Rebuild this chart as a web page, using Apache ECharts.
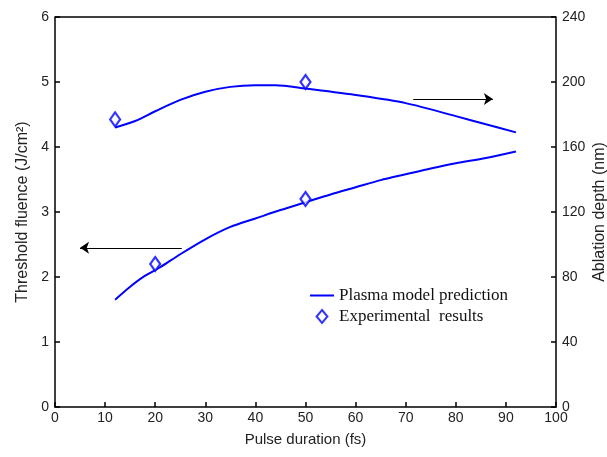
<!DOCTYPE html>
<html>
<head>
<meta charset="utf-8">
<script src="https://cdn.jsdelivr.net/npm/echarts@6/dist/echarts.min.js"></script>
<style>
  html, body { margin: 0; padding: 0; background: #fff; }
  #main { width: 607px; height: 457px; }
</style>
</head>
<body>
<div id="main"></div>
<script>
// model curve for threshold fluence (left axis, J/cm2)
var fluenceX = [12, 15, 18, 21, 25, 30, 35, 40, 45, 50, 55, 60, 65, 70, 75, 80, 86, 92];
var fluenceY = [1.65, 1.85, 2.02, 2.15, 2.35, 2.58, 2.77, 2.9, 3.03, 3.15, 3.27, 3.38, 3.49, 3.58, 3.67, 3.75, 3.83, 3.93];
// model curve for ablation depth (right axis, nm)
var depthX = [12, 16, 20, 25, 30, 35, 40, 44, 50, 60, 70, 80, 86, 92];
var depthY = [172, 176, 182, 189, 194, 197, 198, 198, 196, 192, 187, 179, 174, 169];
// experimental points
var expFluence = [[20, 2.2], [50, 3.2]];
var expDepth = [[12, 177], [50, 200]];
// arrows (in left-axis units)
var arrowLeft = [[25.3, 2.45], [5, 2.45]];
var arrowRight = [[71.5, 4.74], [87.4, 4.74]];

var blue = '#0000ff';
var myChart = echarts.init(document.getElementById('main'));

function pairs(xs, ys) {
    var out = [];
    for (var i = 0; i < xs.length; i++) out.push([xs[i], ys[i]]);
    return out;
}

var tickFont = { color: '#222', fontSize: 14, fontFamily: 'Liberation Sans' };
var diamondPath = 'path://M5,0 L10,6 L5,12 L0,6 Z';

var option = {
    animation: false,
    grid: { left: 55, right: 51, top: 17, bottom: 50, containLabel: false, outerBoundsMode: 'none' },
    legend: {
        orient: 'vertical',
        left: 305,
        top: 282,
        itemGap: 4,
        itemWidth: 24,
        itemHeight: 13,
        textStyle: { fontFamily: 'Liberation Serif', fontSize: 17, color: '#111' },
        data: [
            { name: 'Plasma model prediction', icon: 'path://M0,6 L24,6 L24,8 L0,8 Z' },
            { name: 'Experimental  results', icon: diamondPath }
        ]
    },
    xAxis: {
        type: 'value', min: 0, max: 100, interval: 10,
        name: 'Pulse duration (fs)', nameLocation: 'middle', nameGap: 25, nameMoveOverlap: false,
        nameTextStyle: { fontSize: 15, fontFamily: 'Liberation Sans', color: '#222' },
        axisLine: { lineStyle: { color: '#000', width: 1.5 } },
        axisTick: { inside: true, length: 5, lineStyle: { color: '#000', width: 1.5 } },
        axisLabel: Object.assign({ margin: 4 }, tickFont),
        splitLine: { show: false }
    },
    yAxis: [{
        type: 'value', min: 0, max: 6, interval: 1,
        name: 'Threshold fluence (J/cm²)', nameLocation: 'middle', nameGap: 24, nameMoveOverlap: false,
        nameTextStyle: { fontSize: 16, fontFamily: 'Liberation Sans', color: '#222' },
        axisLine: { show: true, lineStyle: { color: '#000', width: 1.5 } },
        axisTick: { inside: true, length: 5, lineStyle: { color: '#000', width: 1.5 } },
        axisLabel: Object.assign({ margin: 6 }, tickFont),
        splitLine: { show: false }
    }, {
        type: 'value', min: 0, max: 240, interval: 40, position: 'right',
        name: 'Ablation depth (nm)', nameLocation: 'middle', nameGap: 36, nameRotate: 90, nameMoveOverlap: false,
        nameTextStyle: { fontSize: 16, fontFamily: 'Liberation Sans', color: '#222' },
        axisLine: { show: true, lineStyle: { color: '#000', width: 1.5 } },
        axisTick: { inside: true, length: 5, lineStyle: { color: '#000', width: 1.5 } },
        axisLabel: Object.assign({ margin: 6 }, tickFont),
        splitLine: { show: false }
    }],
    graphic: [{
        type: 'line', shape: { x1: 55, y1: 17, x2: 556, y2: 17 },
        style: { stroke: '#000', lineWidth: 1.5 }
    }],
    series: [{
        name: 'Plasma model prediction', type: 'line', yAxisIndex: 0,
        data: pairs(fluenceX, fluenceY), smooth: 0.3, showSymbol: false,
        lineStyle: { color: blue, width: 2 }, itemStyle: { color: blue },
        markLine: {
            silent: true, symbol: ['none', 'arrow'], symbolSize: [9, 9],
            label: { show: false },
            lineStyle: { color: '#000', width: 1, type: 'solid' },
            data: [
                [{ coord: arrowLeft[0] }, { coord: arrowLeft[1] }],
                [{ coord: arrowRight[0] }, { coord: arrowRight[1] }]
            ]
        }
    }, {
        name: 'Plasma model prediction', type: 'line', yAxisIndex: 1,
        data: pairs(depthX, depthY), smooth: 0.3, showSymbol: false,
        lineStyle: { color: blue, width: 2 }, itemStyle: { color: blue }
    }, {
        name: 'Experimental  results', type: 'scatter', yAxisIndex: 0,
        data: expFluence, symbol: 'diamond', symbolSize: [10, 14],
        itemStyle: { color: '#fff', borderColor: blue, borderWidth: 2.2 }, z: 5
    }, {
        name: 'Experimental  results', type: 'scatter', yAxisIndex: 1,
        data: expDepth, symbol: 'diamond', symbolSize: [10, 14],
        itemStyle: { color: '#fff', borderColor: blue, borderWidth: 2.2 }, z: 5
    }]
};
myChart.setOption(option);
</script>
</body>
</html>
